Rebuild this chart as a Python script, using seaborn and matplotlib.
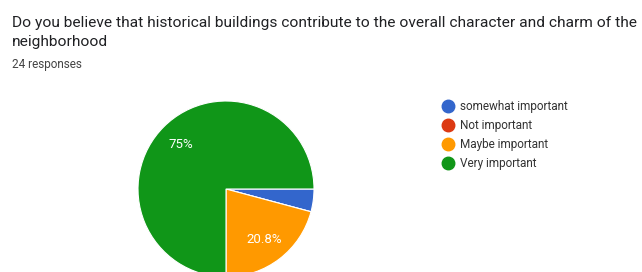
import matplotlib
matplotlib.use("Agg")
import matplotlib.pyplot as plt
import seaborn as sns
from matplotlib.lines import Line2D

# Dữ liệu khảo sát
labels = ["somewhat important", "Not important", "Maybe important", "Very important"]
counts = [1, 0, 5, 18]
colors = ["#3366cc", "#dc3912", "#ff9900", "#109618"]
question = "Do you believe that historical buildings contribute to the overall character and charm of the\nneighborhood"
responses = "24 responses"

sns.set_style("white")
plt.rcParams['font.family'] = ['Roboto', 'DejaVu Sans']

W, H = 642, 272
fig = plt.figure(figsize=(W / 100, H / 100), dpi=100)

# Trục cho biểu đồ tròn (tâm ~ (226,189) px, bán kính ~88 px)
cx, cy, r = 226, 189, 88
ax = fig.add_axes([(cx - r) / W, (H - cy - r) / H, 2 * r / W, 2 * r / H])


def fmt(p):
    return f"{p:.3g}%" if p >= 5 else ""


ax.pie(counts, colors=colors, startangle=0, counterclock=False,
       autopct=fmt, pctdistance=0.72, radius=1,
       wedgeprops=dict(edgecolor="white", linewidth=0.8),
       textprops=dict(color="white", fontsize=9.5))
ax.set_xlim(-1, 1)
ax.set_ylim(-1, 1)
ax.axis("off")

# Tiêu đề
fig.text(12 / W, 1 - 16 / H, question, ha="left", va="top", fontsize=11.15,
         color="#202124", linespacing=1.45)
fig.text(12 / W, 1 - 58 / H, responses, ha="left", va="top", fontsize=8.5,
         color="#444444")

# Chú giải
handles = [Line2D([], [], marker="o", linestyle="", markersize=9,
                  markerfacecolor=c, markeredgecolor=c) for c in colors]
fig.legend(handles, labels, loc="upper left", bbox_to_anchor=(442 / W, 1 - 100 / H),
           frameon=False, fontsize=8.5, handletextpad=0.5, labelspacing=0.52,
           handlelength=1.0, labelcolor="#333333", borderaxespad=0, borderpad=0)

fig.savefig("out.png", dpi=100)
